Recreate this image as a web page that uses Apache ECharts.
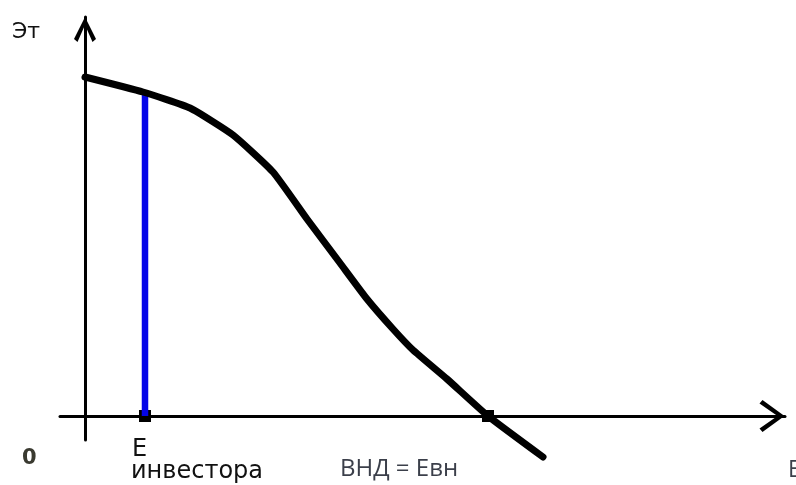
<!DOCTYPE html>
<html>
<head>
<meta charset="utf-8">
<script src="https://cdn.jsdelivr.net/npm/echarts@6/dist/echarts.min.js"></script>
<style>
html,body{margin:0;padding:0;background:#fff;}
#chart{width:796px;height:485px;}
</style>
</head>
<body>
<div id="chart"></div>
<script>
// NPV profile (values in chart units)
var curveX = [0, 58, 105, 148, 188, 222, 255, 282, 308, 328, 362, 403, 458];
var curveY = [339, 324, 308, 281, 244, 197, 153, 117, 87, 66, 37, 0, -41];
var investorRateX = 60;      // E инвестора
var investorRateY = 323;     // curve value at E инвестора
var irrX = 403;              // ВНД = Eвн
var labels = {
  y: 'Эт', origin: '0', eInv1: 'E', eInv2: 'инвестора', irr: 'ВНД = Eвн', x: 'E'
};

var curveData = curveX.map(function (x, i) { return [x, curveY[i]]; });
var blueData = [[investorRateX, 0], [investorRateX, investorRateY]];
var markerData = [[investorRateX, 0], [irrX, 0]];

var yArrow = 'path://M11,0 L22,22 L18.5,25 L11,8 L3.5,25 L0,22 Z';
var xArrow = 'path://M16,0 L32,22 L28.5,25 L16,7 L3.5,25 L0,22 Z';

var chart = echarts.init(document.getElementById('chart'));
chart.setOption({
  animation: false,
  backgroundColor: '#ffffff',
  grid: { left: 60, right: 11, top: 17, bottom: 45, containLabel: false },
  xAxis: {
    type: 'value', min: -25, max: 700,
    axisLine: { show: true, onZero: true, lineStyle: { color: '#000', width: 3 },
      symbol: ['none', xArrow], symbolSize: [32, 26], symbolOffset: [0, -13] },
    axisTick: { show: false }, axisLabel: { show: false }, splitLine: { show: false }
  },
  yAxis: {
    type: 'value', min: -24, max: 399,
    axisLine: { show: true, onZero: true, lineStyle: { color: '#000', width: 3 },
      symbol: ['none', yArrow], symbolSize: [22, 25], symbolOffset: [0, -12.5] },
    axisTick: { show: false }, axisLabel: { show: false }, splitLine: { show: false }
  },
  series: [
    {
      type: 'line', data: blueData, symbol: 'none', silent: true,
      lineStyle: { color: '#0505e8', width: 6.5, cap: 'butt' }
    },
    {
      type: 'line', data: curveData, symbol: 'none', smooth: 0.15,
      clip: false, silent: true,
      lineStyle: { color: '#000', width: 7, cap: 'round', join: 'round' }
    },
    {
      type: 'scatter', data: markerData, symbol: 'rect', symbolSize: 12, clip: false, silent: true,
      itemStyle: { color: '#000', opacity: 1 }
    }
  ],
  graphic: [
    { type: 'text', style: { text: labels.y, x: 12, y: 32, textVerticalAlign: 'middle',
      font: '22px "DejaVu Sans"', fill: '#111' } },
    { type: 'text', style: { text: labels.origin, x: 22, y: 459, textVerticalAlign: 'middle',
      font: 'bold 21px "DejaVu Sans"', fill: '#3a3a30' } },
    { type: 'text', style: { text: labels.eInv1, x: 132, y: 450, textVerticalAlign: 'middle',
      font: '24px "DejaVu Sans"', fill: '#111' } },
    { type: 'text', style: { text: labels.eInv2, x: 131, y: 472, textVerticalAlign: 'middle',
      font: '24px "DejaVu Sans"', fill: '#111' } },
    { type: 'text', style: { text: labels.irr, x: 340, y: 469, textVerticalAlign: 'middle',
      font: '24px "Open Sans"', fill: '#3b3f4a' } },
    { type: 'text', style: { text: labels.x, x: 788, y: 470, textVerticalAlign: 'middle',
      font: '23px "Open Sans"', fill: '#3b3f4a' } }
  ]
});
</script>
</body>
</html>
